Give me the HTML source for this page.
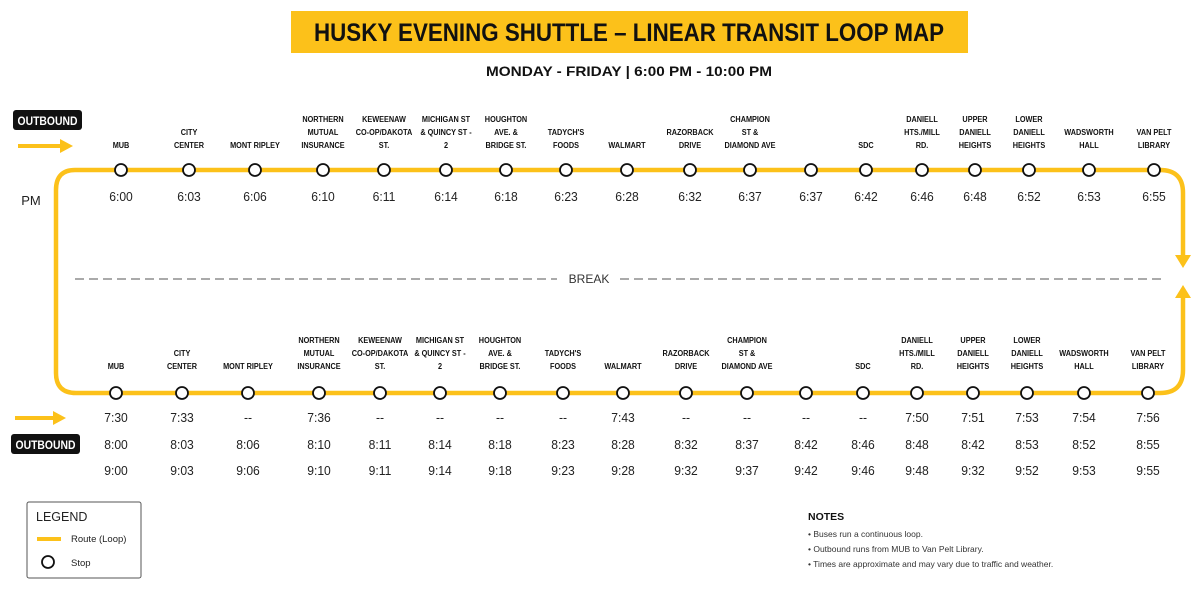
<!DOCTYPE html>
<html><head><meta charset="utf-8"><style>
html,body{margin:0;padding:0;background:#fff;}
svg{display:block;}
text{font-family:"Liberation Sans",sans-serif;}
</style></head><body>
<svg id="s" width="1200" height="600" viewBox="0 0 1200 600" xmlns="http://www.w3.org/2000/svg">
<rect x="291" y="11" width="677" height="42" fill="#fcc11a"/>
<text x="629" y="41" text-anchor="middle" font-size="25" font-weight="bold" fill="#111" textLength="630" lengthAdjust="spacingAndGlyphs">HUSKY EVENING SHUTTLE – LINEAR TRANSIT LOOP MAP</text>
<text x="629" y="76" text-anchor="middle" font-size="14" font-weight="bold" fill="#111" textLength="286" lengthAdjust="spacingAndGlyphs">MONDAY - FRIDAY | 6:00 PM - 10:00 PM</text>
<rect x="13" y="110" width="69" height="20" rx="3" fill="#111"/>
<text x="47.5" y="125" text-anchor="middle" font-size="12" font-weight="bold" fill="#fff" textLength="60" lengthAdjust="spacingAndGlyphs">OUTBOUND</text>
<line x1="18" y1="146" x2="62" y2="146" stroke="#fcc11a" stroke-width="4"/>
<polygon points="60,139 73,146 60,153" fill="#fcc11a"/>
<text x="31" y="205" text-anchor="middle" font-size="13" fill="#222">PM</text>
<path d="M1160,170 Q1183,170 1183,193 L1183,255" fill="none" stroke="#fcc11a" stroke-width="4.5"/>
<polygon points="1175,255 1191,255 1183,268" fill="#fcc11a"/>
<path d="M1160,393 Q1183,393 1183,370 L1183,298" fill="none" stroke="#fcc11a" stroke-width="4.5"/>
<polygon points="1175,298 1191,298 1183,285" fill="#fcc11a"/>
<path d="M1160,170 L75,170 Q56,170 56,190 L56,373 Q56,393 76,393 L1160,393" fill="none" stroke="#fcc11a" stroke-width="4.5"/>
<line x1="75" y1="279" x2="557" y2="279" stroke="#aaa" stroke-width="2" stroke-dasharray="9,5"/>
<line x1="620" y1="279" x2="1162" y2="279" stroke="#aaa" stroke-width="2" stroke-dasharray="9,5"/>
<text x="589" y="283" text-anchor="middle" font-size="12" fill="#333">BREAK</text>
<line x1="15" y1="418" x2="55" y2="418" stroke="#fcc11a" stroke-width="4"/>
<polygon points="53,411 66,418 53,425" fill="#fcc11a"/>
<rect x="11" y="434" width="69" height="20" rx="3" fill="#111"/>
<text x="45.5" y="449" text-anchor="middle" font-size="12" font-weight="bold" fill="#fff" textLength="60" lengthAdjust="spacingAndGlyphs">OUTBOUND</text>
<rect x="27" y="502" width="114" height="76" rx="2" fill="#fff" stroke="#555" stroke-width="1"/>
<text x="36" y="521" font-size="12.5" fill="#222">LEGEND</text>
<line x1="37" y1="539" x2="61" y2="539" stroke="#fcc11a" stroke-width="4"/>
<text x="71" y="542" font-size="9.5" fill="#222">Route (Loop)</text>
<circle cx="48" cy="562" r="6" fill="#fff" stroke="#111" stroke-width="1.8"/>
<text x="71" y="566" font-size="9.5" fill="#222">Stop</text>
<text x="808" y="520" font-size="10.5" font-weight="bold" fill="#111">NOTES</text>
<text x="808" y="537" font-size="8.5" fill="#333">• Buses run a continuous loop.</text>
<text x="808" y="552" font-size="8.5" fill="#333">• Outbound runs from MUB to Van Pelt Library.</text>
<text x="808" y="567" font-size="8.5" fill="#333">• Times are approximate and may vary due to traffic and weather.</text>
<g id="g"></g>
</svg>
<script>
var labels=[["MUB"],["CITY","CENTER"],["MONT RIPLEY"],["NORTHERN","MUTUAL","INSURANCE"],["KEWEENAW","CO-OP/DAKOTA","ST."],["MICHIGAN ST","& QUINCY ST -","2"],["HOUGHTON","AVE. &","BRIDGE ST."],["TADYCH'S","FOODS"],["WALMART"],["RAZORBACK","DRIVE"],["CHAMPION","ST &","DIAMOND AVE"],[],["SDC"],["DANIELL","HTS./MILL","RD."],["UPPER","DANIELL","HEIGHTS"],["LOWER","DANIELL","HEIGHTS"],["WADSWORTH","HALL"],["VAN PELT","LIBRARY"]];
var tx=[121,189,255,323,384,446,506,566,627,690,750,811,866,922,975,1029,1089,1154];
var bx=[116,182,248,319,380,440,500,563,623,686,747,806,863,917,973,1027,1084,1148];
var t6="6:00 6:03 6:06 6:10 6:11 6:14 6:18 6:23 6:28 6:32 6:37 6:37 6:42 6:46 6:48 6:52 6:53 6:55".split(" ");
var t7="7:30 7:33 -- 7:36 -- -- -- -- 7:43 -- -- -- -- 7:50 7:51 7:53 7:54 7:56".split(" ");
var t8="8:00 8:03 8:06 8:10 8:11 8:14 8:18 8:23 8:28 8:32 8:37 8:42 8:46 8:48 8:42 8:53 8:52 8:55".split(" ");
var t9="9:00 9:03 9:06 9:10 9:11 9:14 9:18 9:23 9:28 9:32 9:37 9:42 9:46 9:48 9:32 9:52 9:53 9:55".split(" ");
var h="";
function lab(x,base,l){var n=l.length;for(var i=0;i<n;i++){h+='<text transform="translate('+x+','+(base-(n-1-i)*13)+') scale(0.86,1)" x="0" y="0" text-anchor="middle" font-size="8.5" font-weight="bold" fill="#111">'+l[i].replace("&","&amp;")+'</text>';}}
function tm(x,y,t){h+='<text transform="translate('+x+','+y+') scale(0.97,1)" text-anchor="middle" font-size="12.5" fill="#222">'+t+'</text>';}
for(var i=0;i<18;i++){
 lab(tx[i],148,labels[i]);
 h+='<circle cx="'+tx[i]+'" cy="170" r="6" fill="#fff" stroke="#111" stroke-width="1.8"/>';
 tm(tx[i],201,t6[i]);
 lab(bx[i],369,labels[i]);
 h+='<circle cx="'+bx[i]+'" cy="393" r="6" fill="#fff" stroke="#111" stroke-width="1.8"/>';
 tm(bx[i],422,t7[i]);tm(bx[i],449,t8[i]);tm(bx[i],475,t9[i]);
}
document.getElementById("g").innerHTML=h;
</script>
</body></html>
